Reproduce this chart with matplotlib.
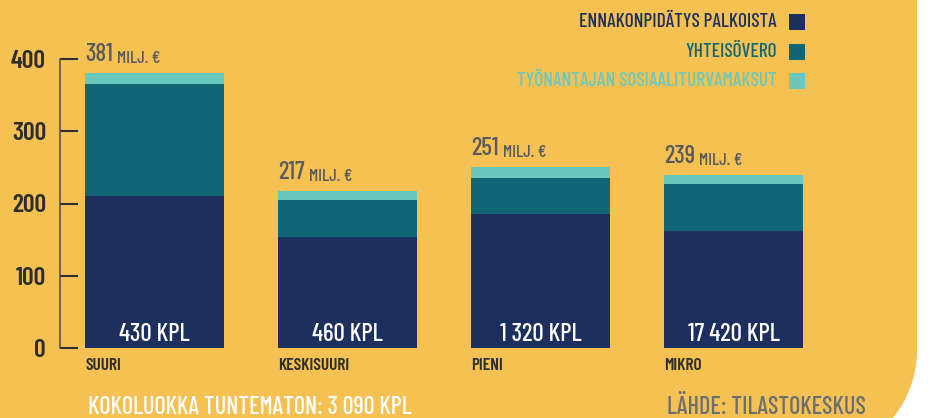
import numpy as np
import matplotlib
matplotlib.use("Agg")
from matplotlib import pyplot as plt
from matplotlib.patches import Polygon, Rectangle

# data
categories = ["SUURI", "KESKISUURI", "PIENI", "MIKRO"]
ennakko = [211, 153, 185, 162]
yhteisovero = [155, 52, 50, 65]
sosiaali = [15, 12, 16, 12]
totals = [381, 217, 251, 239]
counts = ["430 KPL", "460 KPL", "1 320 KPL", "17 420 KPL"]
series_names = ["ENNAKONPIDÄTYS PALKOISTA", "YHTEISÖVERO", "TYÖNANTAJAN SOSIAALITURVAMAKSUT"]
yticks = [0, 100, 200, 300, 400]

NAVY = "#1c2f5e"
TEAL = "#116676"
LIGHT = "#6bc8bf"
YELLOW = "#f4c152"
GRAY = "#575a5e"
DARK = "#2e2e2e"
colors = [NAVY, TEAL, LIGHT]

plt.rcParams["font.family"] = ["Barlow Condensed", "DejaVu Sans"]
plt.rcParams["font.weight"] = 500

W, H = 930, 418
fig = plt.figure(figsize=(W / 100, H / 100), dpi=100, facecolor="white")

# yellow background with rounded bottom-right corner
r = 108
cx, cy = 917 - r, 350
ang = np.linspace(0, np.arcsin((H - cy) / r), 30)
arc = [(cx + r * np.cos(a), cy + r * np.sin(a)) for a in ang]
pts = [(0, 0), (917, 0)] + arc + [(0, H)]
pts = [(px / W, 1 - py / H) for px, py in pts]
fig.patches.append(Polygon(pts, closed=True, transform=fig.transFigure,
                           facecolor=YELLOW, edgecolor="none", zorder=-1))

ax = fig.add_axes([60 / W, 70 / H, 800 / W, 289 / H])
ax.set_facecolor("none")
x = np.arange(len(categories))
bw = 139 / 193
ax.set_xlim(-94.5 / 193, -94.5 / 193 + 800 / 193)
ax.set_ylim(0, 400)

bottom = np.zeros(len(categories))
for vals, c in zip([ennakko, yhteisovero, sosiaali], colors):
    ax.bar(x, vals, bw, bottom=bottom, color=c, linewidth=0)
    bottom += np.array(vals)

for s in ["top", "right", "bottom"]:
    ax.spines[s].set_visible(False)
ax.spines["left"].set_color("#555555")
ax.spines["left"].set_linewidth(1.2)
ax.set_yticks(yticks)
ax.set_xticks([])
ax.tick_params(axis="y", direction="in", length=13, width=1.5, color=DARK,
               labelsize=18.5, labelcolor=DARK, pad=10)
for lab in ax.get_yticklabels():
    lab.set_fontweight(600)

for i in range(len(categories)):
    left = x[i] - bw / 2
    t = ax.annotate(str(totals[i]), xy=(left, totals[i]), xytext=(0, 5),
                    textcoords="offset points", ha="left", va="bottom",
                    fontsize=18, color=GRAY)
    ax.annotate("MILJ. €", xy=(1, 0), xycoords=t, xytext=(3, 0),
                textcoords="offset points", ha="left", va="bottom",
                fontsize=12.5, color=GRAY)
    ax.annotate(counts[i], xy=(x[i], 0), xytext=(0, 5),
                textcoords="offset points", ha="center", va="baseline",
                fontsize=18, color="white")
    ax.annotate(categories[i], xy=(left, 0), xytext=(0, -7),
                textcoords="offset points", ha="left", va="top",
                fontsize=12.5, color=DARK, fontweight=600)

# legend
for name, c, py in zip(series_names, colors, [22, 52, 81]):
    fig.text(777 / W, 1 - py / H, name, ha="right", va="center",
             fontsize=14, color=c)
    fig.patches.append(Rectangle((789 / W, 1 - (py + 8) / H), 16 / W, 16 / H,
                                 transform=fig.transFigure, facecolor=c,
                                 edgecolor="none", zorder=2))

fig.text(88 / W, 1 - 407 / H, "KOKOLUOKKA TUNTEMATON: 3 090 KPL", ha="left",
         va="center", fontsize=17.5, color="white")
fig.text(866 / W, 1 - 407 / H, "LÄHDE: TILASTOKESKUS", ha="right",
         va="center", fontsize=17.5, color="#6b6e73")

fig.savefig("out.png", dpi=100, facecolor=fig.get_facecolor())
